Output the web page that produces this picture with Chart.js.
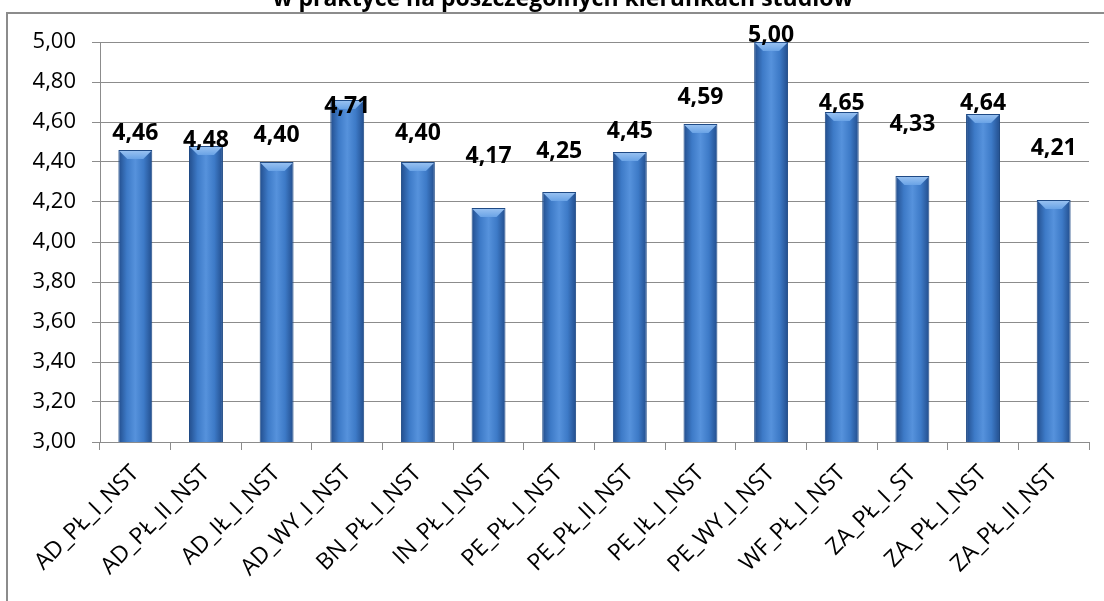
<!DOCTYPE html>
<html>
<head>
<meta charset="utf-8">
<script src="https://cdn.jsdelivr.net/npm/chart.js"></script>
<style>
  html, body {
    margin: 0;
    padding: 0;
    width: 1104px;
    height: 601px;
    overflow: hidden;
    background: #ffffff;
  }
  .frame {
    position: absolute;
    left: 6px;
    top: 12px;
    width: 1200px;
    height: 700px;
    border-left: 2px solid #8c8c8c;
    border-top: 2px solid #8c8c8c;
  }
  .title {
    position: absolute;
    left: 263px;
    width: 600px;
    top: -19px;
    text-align: center;
    font-family: 'Open Sans', sans-serif;
    font-weight: bold;
    font-size: 23px;
    color: #000;
    white-space: nowrap;
  }
  #wrap {
    position: absolute;
    left: 0;
    top: 0;
    width: 1104px;
    height: 601px;
  }
</style>
</head>
<body>
<div class="frame"></div>
<div id="wrap"><canvas id="chart" width="1104" height="601"></canvas></div>
<div class="title">w praktyce na poszczególnych kierunkach studiów</div>
<script>
// kierunki studiów i średnie oceny
const categories = [
  "AD_PŁ_I_NST", "AD_PŁ_II_NST", "AD_IŁ_I_NST", "AD_WY_I_NST", "BN_PŁ_I_NST",
  "IN_PŁ_I_NST", "PE_PŁ_I_NST", "PE_PŁ_II_NST", "PE_IŁ_I_NST", "PE_WY_I_NST",
  "WF_PŁ_I_NST", "ZA_PŁ_I_ST", "ZA_PŁ_I_NST", "ZA_PŁ_II_NST"
];
const values = [4.46, 4.48, 4.40, 4.71, 4.40, 4.17, 4.25, 4.45, 4.59, 5.00, 4.65, 4.33, 4.64, 4.21];
const yMin = 3.0;
const yMax = 5.0;
const yStep = 0.2;

const fmt = v => Number(v).toFixed(2).replace(".", ",");
const BAR_PCT = 0.48;

// etykiety w oryginale były przesuwane ręcznie (px nad wierzchołkiem słupka)
const labelLift = [17, 6, 27, -6, 29, 52, 41, 21, 27, 7, 9, 52, 11, 52];

// gradient poziomy jak w Excelu
function barFill(ctx) {
  const chart = ctx.chart;
  const xs = chart.scales && chart.scales.x;
  if (!chart.chartArea || !xs || ctx.dataIndex === undefined) return "#3f78c4";
  const cx = xs.getPixelForValue(ctx.dataIndex);
  const half = (xs.width / categories.length) * BAR_PCT / 2;
  const g = chart.ctx.createLinearGradient(cx - half, 0, cx + half, 0);
  g.addColorStop(0, "#224d8c");
  g.addColorStop(0.25, "#3d7ac7");
  g.addColorStop(0.5, "#5692dc");
  g.addColorStop(0.75, "#3d7ac7");
  g.addColorStop(1, "#224d8c");
  return g;
}

const bevelPlugin = {
  id: "bevel",
  afterDatasetsDraw(chart) {
    const c = chart.ctx;
    const meta = chart.getDatasetMeta(0);
    c.save();
    meta.data.forEach(el => {
      const l = el.x - el.width / 2, r = el.x + el.width / 2, t = el.y;
      const b = 9;
      const g = c.createLinearGradient(0, t, 0, t + b);
      g.addColorStop(0, "#9cc4f2");
      g.addColorStop(1, "#6aa3e6");
      c.fillStyle = g;
      c.beginPath();
      c.moveTo(l + 1, t + 1);
      c.lineTo(r - 1, t + 1);
      c.lineTo(r - b, t + b);
      c.lineTo(l + b, t + b);
      c.closePath();
      c.fill();
    });
    c.restore();
  }
};

const labelPlugin = {
  id: "valueLabels",
  afterDatasetsDraw(chart) {
    const c = chart.ctx;
    const meta = chart.getDatasetMeta(0);
    c.save();
    c.font = "bold 23px 'Open Sans', sans-serif";
    c.fillStyle = "#000";
    c.textAlign = "center";
    c.textBaseline = "middle";
    meta.data.forEach((el, i) => {
      c.fillText(fmt(values[i]), el.x, el.y - labelLift[i]);
    });
    c.restore();
  }
};

new Chart(document.getElementById("chart"), {
  type: "bar",
  data: {
    labels: categories,
    datasets: [{
      data: values,
      backgroundColor: barFill,
      borderColor: "#1f4a85",
      borderWidth: 1,
      barPercentage: BAR_PCT,
      categoryPercentage: 1.0
    }]
  },
  options: {
    responsive: false,
    animation: false,
    events: [],
    layout: { padding: { top: 42, right: 15, bottom: 0, left: 0 } },
    plugins: {
      legend: { display: false },
      tooltip: { enabled: false },
      title: { display: false }
    },
    scales: {
      x: {
        offset: true,
        afterFit(scale) { scale.height = 159; },
        grid: {
          offset: true,
          drawOnChartArea: false,
          drawTicks: true,
          tickLength: 8,
          color: "#8c8c8c"
        },
        border: { color: "#8c8c8c", width: 1 },
        ticks: {
          autoSkip: false,
          maxRotation: 45,
          minRotation: 45,
          padding: 10,
          color: "#000",
          font: { family: "'Open Sans', sans-serif", size: 23 }
        }
      },
      y: {
        min: yMin,
        max: yMax,
        afterFit(scale) { scale.width = 100; },
        grid: {
          color: "#8c8c8c",
          lineWidth: 1,
          tickLength: 8
        },
        border: { color: "#8c8c8c", width: 1 },
        ticks: {
          stepSize: yStep,
          padding: 16,
          color: "#000",
          font: { family: "'Open Sans', sans-serif", size: 22 },
          callback: v => fmt(v)
        }
      }
    }
  },
  plugins: [bevelPlugin, labelPlugin]
});
</script>
</body>
</html>
